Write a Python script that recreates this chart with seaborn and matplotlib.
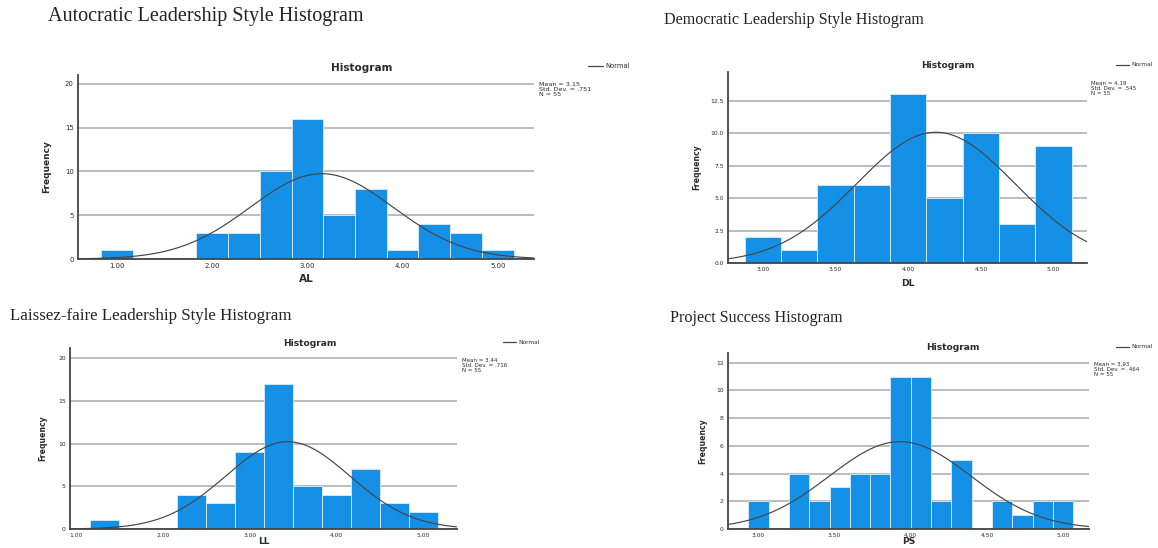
import numpy as np
import pandas as pd
import matplotlib.pyplot as plt
from matplotlib.lines import Line2D
import seaborn as sns

# Values (bin midpoints and frequencies, N = 55)
al_bins = [1.00, 1.33, 1.67, 2.00, 2.33, 2.67, 3.00, 3.33, 3.67, 4.00, 4.33, 4.67, 5.00]
al_freq = [1, 0, 0, 3, 3, 10, 16, 5, 8, 1, 4, 3, 1]

dl_bins = [3.00, 3.25, 3.50, 3.75, 4.00, 4.25, 4.50, 4.75, 5.00]
dl_freq = [2, 1, 6, 6, 13, 5, 10, 3, 9]

ll_bins = [1.33, 1.67, 2.00, 2.33, 2.67, 3.00, 3.33, 3.67, 4.00, 4.33, 4.67, 5.00]
ll_freq = [1, 0, 0, 4, 3, 9, 17, 5, 4, 7, 3, 2]

ps_bins = [3.00, 3.13, 3.27, 3.40, 3.53, 3.67, 3.80, 3.93, 4.07, 4.20, 4.33, 4.47, 4.60, 4.73, 4.87, 5.00]
ps_freq = [2, 0, 4, 2, 3, 4, 4, 11, 11, 2, 5, 0, 2, 1, 2, 2]

# Descriptives printed next to each chart
means = [3.15, 4.19, 3.44, 3.93]
std_devs = [0.751, 0.545, 0.716, 0.464]
n_obs = 55

titles = ['Autocratic Leadership Style Histogram', 'Democratic Leadership Style Histogram',
          'Laissez-faire Leadership Style Histogram', 'Project Success Histogram']
var_names = ['AL', 'DL', 'LL', 'PS']
x_ticks = [[1, 2, 3, 4, 5], [3, 3.5, 4, 4.5, 5], [1, 2, 3, 4, 5], [3, 3.5, 4, 4.5, 5]]
y_ticks = [[0, 5, 10, 15, 20], [0, 2.5, 5, 7.5, 10, 12.5], [0, 5, 10, 15, 20], [0, 2, 4, 6, 8, 10, 12]]
y_fmt = ['{:.0f}', '{:.1f}', '{:.0f}', '{:.0f}']

# Layout in pixels, the picture is a screenshot of four pasted SPSS charts
W, H = 1158, 548
boxes = [(78, 75, 534, 259), (728, 72, 1087, 263), (70, 348, 457, 529), (728, 353, 1089, 529)]
x_ranges = [(0.59, 5.38), (2.76, 5.23), (0.93, 5.39), (2.80, 5.17)]
y_tops = [21.0, 14.7, 21.2, 12.7]
title_pos = [(48, 17, 14.5), (664, 20, 11.65), (10, 316, 12.2), (670, 318, 11.6)]
hist_pos = [(362, 68), (948, 66), (310, 343), (953, 348)]
legend_pos = [(588, 66), (1116, 65), (503, 342), (1116, 347)]
stats_pos = [(539, 82), (1091, 81), (462, 358), (1094, 362)]
xlabel_y = [279, 283, 542, 542]
ylabel_x = [47, 697, 43, 703]
scales = [1.15, 1.0, 1.0, 1.0]

BAR = '#1490e6'
CURVE = '#454545'
TEXT = '#2b2b2b'

sns.set_style('white')
plt.rcParams['font.family'] = ['DejaVu Sans']

fig = plt.figure(figsize=(W / 100, H / 100), dpi=100)

all_bins = [al_bins, dl_bins, ll_bins, ps_bins]
all_freq = [al_freq, dl_freq, ll_freq, ps_freq]

for i in range(4):
    l, t, r, b = boxes[i]
    s = scales[i]
    ax = fig.add_axes([l / W, 1 - b / H, (r - l) / W, (b - t) / H])

    df = pd.DataFrame({'score': all_bins[i], 'freq': all_freq[i]})
    width = (df['score'].iloc[-1] - df['score'].iloc[0]) / (len(df) - 1)
    edges = list(np.linspace(df['score'].iloc[0] - width / 2, df['score'].iloc[-1] + width / 2, len(df) + 1))
    sns.histplot(data=df, x='score', weights='freq', bins=edges, ax=ax, color=BAR, alpha=1,
                 edgecolor='#dcecf9', linewidth=0.6, zorder=2)

    # normal curve scaled to the histogram, like SPSS draws it
    xs = np.linspace(x_ranges[i][0], x_ranges[i][1], 300)
    mu, sd = means[i], std_devs[i]
    ys = n_obs * width * np.exp(-0.5 * ((xs - mu) / sd) ** 2) / (sd * np.sqrt(2 * np.pi))
    sns.lineplot(x=xs, y=ys, ax=ax, color=CURVE, linewidth=0.85, zorder=3)

    ax.set_xlim(*x_ranges[i])
    ax.set_ylim(0, y_tops[i])
    ax.set_xticks(x_ticks[i])
    ax.set_xticklabels(['{:.2f}'.format(v) for v in x_ticks[i]])
    ax.set_yticks(y_ticks[i])
    ax.set_yticklabels([y_fmt[i].format(v) for v in y_ticks[i]])
    ax.tick_params(length=0, labelsize=4.3 * s, pad=3, colors=TEXT)
    ax.set_xlabel('')
    ax.set_ylabel('')
    ax.set_axisbelow(True)
    ax.yaxis.grid(True, color='#a9a9a9', linewidth=1.1)
    ax.xaxis.grid(False)
    for side in ['top', 'right']:
        ax.spines[side].set_visible(False)
    for side in ['left', 'bottom']:
        ax.spines[side].set_color('#444444')
        ax.spines[side].set_linewidth(1.3)
    ax.spines['bottom'].set_zorder(4)

    # texts around the chart
    tx, ty, tsize = title_pos[i]
    fig.text(tx / W, 1 - ty / H, titles[i], fontfamily='Liberation Serif', fontsize=tsize,
             color='#222222', ha='left', va='center')
    hx, hy = hist_pos[i]
    fig.text(hx / W, 1 - hy / H, 'Histogram', fontsize=6.6 * s, fontweight='bold',
             color=TEXT, ha='center', va='center')
    fig.text((l + r) / 2 / W, 1 - xlabel_y[i] / H, var_names[i], fontsize=6.6 * s,
             fontweight='bold', color=TEXT, ha='center', va='center')
    fig.text(ylabel_x[i] / W, 1 - (t + b) / 2 / H, 'Frequency', fontsize=5.6 * s,
             rotation=90, color=TEXT, ha='center', va='center',
             fontfamily=['Liberation Sans Narrow', 'DejaVu Sans'], fontweight='bold')

    lx, ly = legend_pos[i]
    fig.add_artist(Line2D([lx / W, (lx + 13 * s) / W], [1 - ly / H, 1 - ly / H],
                          color=CURVE, linewidth=0.9))
    fig.text((lx + 15 * s) / W, 1 - ly / H, 'Normal', fontsize=4.2 * s, color=TEXT,
             ha='left', va='center')

    sx, sy = stats_pos[i]
    sd_txt = '{:.3f}'.format(std_devs[i]).lstrip('0')
    fig.text(sx / W, 1 - sy / H, 'Mean = {:.2f}\nStd. Dev. = {}\nN = {}'.format(means[i], sd_txt, n_obs),
             fontsize=4.0 * s, color=TEXT, ha='left', va='top', linespacing=0.95)

fig.savefig('out.png', dpi=100)
